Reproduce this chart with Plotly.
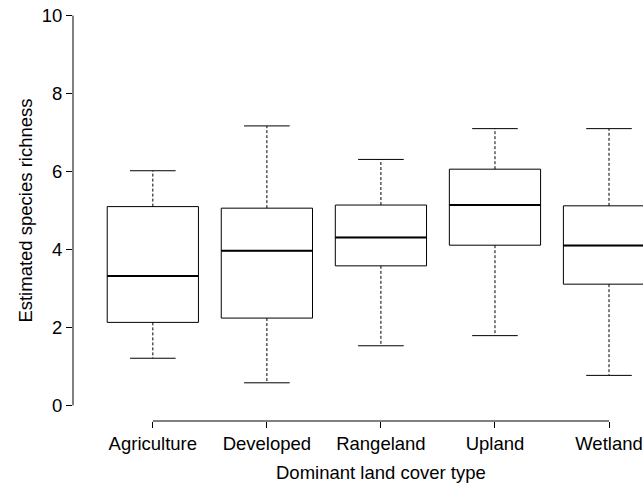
import plotly.graph_objects as go

categories = ["Agriculture", "Developed", "Rangeland", "Upland", "Wetland"]
lower_whisker = [1.21, 0.58, 1.53, 1.79, 0.77]
q1 = [2.13, 2.24, 3.58, 4.11, 3.11]
median = [3.32, 3.97, 4.31, 5.14, 4.10]
q3 = [5.10, 5.06, 5.14, 6.06, 5.12]
upper_whisker = [6.02, 7.17, 6.31, 7.10, 7.10]
y_ticks = [0, 2, 4, 6, 8, 10]

positions = list(range(1, len(categories) + 1))
box_w = 0.8
cap_w = 0.4
FONT = "Liberation Sans, Arial, sans-serif"
FS = 18.5

fig = go.Figure()

# box bodies (whiskers drawn separately as dashed lines)
fig.add_trace(go.Box(
    x=positions, q1=q1, median=median, q3=q3,
    lowerfence=q1, upperfence=q3,
    width=box_w, whiskerwidth=0,
    fillcolor="white", line=dict(color="black", width=1),
    boxpoints=False, showlegend=False, hoverinfo="skip",
))

for p, lo, a, m, b, hi in zip(positions, lower_whisker, q1, median, q3, upper_whisker):
    # dashed whiskers
    for y0, y1 in ((a, lo), (b, hi)):
        fig.add_trace(go.Scatter(x=[p, p], y=[y0, y1], mode="lines",
                                 line=dict(color="black", width=1, dash="3px,2px"),
                                 showlegend=False, hoverinfo="skip"))
    # whisker caps
    for yv in (lo, hi):
        fig.add_trace(go.Scatter(x=[p - cap_w / 2, p + cap_w / 2], y=[yv, yv], mode="lines",
                                 line=dict(color="black", width=1),
                                 showlegend=False, hoverinfo="skip"))
    # thick median
    fig.add_trace(go.Scatter(x=[p - box_w / 2, p + box_w / 2], y=[m, m], mode="lines",
                             line=dict(color="black", width=2),
                             showlegend=False, hoverinfo="skip"))

# axis lines spanning only the tick range (R style)
fig.add_shape(type="line", xref="paper", yref="y", x0=0, x1=0, y0=y_ticks[0], y1=y_ticks[-1],
              line=dict(color="black", width=1))
fig.add_shape(type="line", xref="x", yref="paper", x0=positions[0], x1=positions[-1], y0=0, y1=0,
              line=dict(color="black", width=1))

fig.add_annotation(text="Estimated species richness", xref="paper", yref="y",
                   x=-0.084, y=5, textangle=-90, showarrow=False,
                   font=dict(family=FONT, size=FS, color="black"),
                   xanchor="center", yanchor="middle")
fig.add_annotation(text="Dominant land cover type", xref="x", yref="paper",
                   x=3, y=-0.122, showarrow=False,
                   font=dict(family=FONT, size=FS, color="black"),
                   xanchor="center", yanchor="middle")

fig.update_layout(
    width=643, height=485,
    margin=dict(l=73, r=0, t=0, b=64, autoexpand=False),
    paper_bgcolor="white", plot_bgcolor="white",
    font=dict(family=FONT, size=FS, color="black"),
    showlegend=False,
    xaxis=dict(range=[0.3, 5.298], tickvals=positions, ticktext=categories,
               ticks="outside", ticklen=6, tickwidth=1, tickcolor="black",
               showgrid=False, zeroline=False, showline=False, automargin=False,
               tickfont=dict(family=FONT, size=FS, color="black")),
    yaxis=dict(range=[-0.4, 10.4], tickvals=y_ticks,
               ticks="outside", ticklen=6, tickwidth=1, tickcolor="black",
               showgrid=False, zeroline=False, showline=False, automargin=False,
               tickfont=dict(family=FONT, size=FS, color="black")),
)

fig.write_html("out.html", config={"displayModeBar": False},
               post_script="document.body.style.margin='0';")
